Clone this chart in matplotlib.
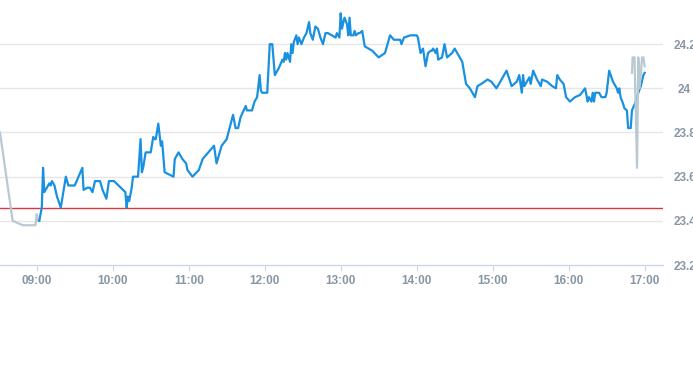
import matplotlib
matplotlib.use("Agg")
import matplotlib.pyplot as plt
import numpy as np

# minutes after 09:00 and price, regular session
minutes = [2, 4, 5, 6, 8, 9, 10, 11, 12, 14, 16, 19, 23, 25, 30, 36, 37, 40, 42, 44,
           46, 50, 52, 55, 57, 61, 70, 71, 72, 73, 75, 76, 80, 82, 83, 84, 86, 90, 92, 93,
           94, 96, 98, 99, 101, 108, 109, 112, 113, 115, 118, 119, 123, 128, 131, 140, 142, 146, 150, 155,
           157, 159, 161, 165, 166, 170, 172, 174, 176, 177, 178, 182, 184, 186, 188, 191, 194, 195, 196, 197,
           198, 200, 201, 202, 203, 205, 206, 207, 209, 211, 213, 215, 216, 218, 220, 222, 224, 226, 228, 230,
           233, 236, 237, 239, 240, 241, 243, 245, 246, 247, 248, 250, 251, 252, 254, 255, 257, 259, 265, 270,
           275, 279, 282, 287, 288, 290, 295, 300, 301, 303, 305, 307, 309, 311, 312, 313, 315, 316, 317, 320,
           322, 324, 328, 330, 333, 336, 339, 342, 346, 348, 351, 356, 359, 363, 366, 371, 375, 379, 381, 383,
           384, 385, 387, 389, 390, 392, 395, 398, 399, 403, 407, 410, 411, 413, 416, 418, 421, 425, 429, 433,
           435, 436, 438, 439, 440, 441, 444, 446, 449, 450, 452, 455, 458, 459, 460, 461, 463, 464, 466, 467,
           469, 470, 473, 475, 477, 479, 480]
prices = [23.40, 23.46, 23.64, 23.53, 23.55, 23.56, 23.57, 23.56, 23.58, 23.56, 23.51, 23.46, 23.60, 23.56, 23.56, 23.64, 23.54, 23.55, 23.55, 23.53,
          23.58, 23.58, 23.54, 23.50, 23.58, 23.58, 23.53, 23.46, 23.51, 23.49, 23.55, 23.60, 23.60, 23.77, 23.62, 23.64, 23.71, 23.71, 23.78, 23.77,
          23.77, 23.84, 23.74, 23.76, 23.62, 23.60, 23.68, 23.71, 23.70, 23.68, 23.66, 23.63, 23.60, 23.63, 23.68, 23.74, 23.66, 23.74, 23.77, 23.88,
          23.82, 23.82, 23.87, 23.92, 23.90, 23.90, 23.94, 23.96, 24.06, 23.99, 23.98, 23.98, 24.20, 24.20, 24.06, 24.09, 24.13, 24.12, 24.16, 24.13,
          24.16, 24.12, 24.20, 24.16, 24.21, 24.24, 24.20, 24.23, 24.20, 24.23, 24.25, 24.30, 24.25, 24.22, 24.28, 24.27, 24.23, 24.20, 24.25, 24.25,
          24.24, 24.23, 24.25, 24.23, 24.34, 24.27, 24.32, 24.29, 24.24, 24.32, 24.24, 24.24, 24.26, 24.24, 24.25, 24.25, 24.26, 24.19, 24.17, 24.14,
          24.16, 24.24, 24.22, 24.22, 24.20, 24.23, 24.24, 24.24, 24.23, 24.16, 24.18, 24.10, 24.16, 24.17, 24.17, 24.18, 24.16, 24.18, 24.13, 24.14,
          24.20, 24.14, 24.16, 24.18, 24.15, 24.12, 24.02, 24.00, 23.96, 24.01, 24.02, 24.04, 24.03, 24.00, 24.03, 24.08, 24.01, 24.03, 24.06, 23.98,
          24.06, 24.01, 24.03, 24.05, 24.02, 24.08, 24.04, 24.01, 24.04, 24.03, 24.01, 24.00, 24.06, 24.04, 24.02, 23.96, 23.94, 23.96, 23.97, 24.00,
          23.94, 23.96, 23.94, 23.98, 23.94, 23.98, 23.98, 23.96, 23.96, 23.98, 24.08, 24.03, 24.00, 23.98, 24.00, 23.96, 23.93, 23.91, 23.90, 23.82,
          23.82, 23.90, 23.94, 23.98, 24.01, 24.06, 24.07]

# extended hours (grey)
pre_minutes = [-29, -19, -15, -11, -1, 0, 1, 2]
pre_prices = [23.80, 23.40, 23.39, 23.38, 23.38, 23.43, 23.40, 23.40]
post_minutes = [470, 470.5, 471, 472, 474, 475, 476, 478, 479, 480]
post_prices = [24.07, 24.14, 24.14, 24.14, 23.64, 24.14, 24.00, 24.14, 24.14, 24.10]

prev_close = 23.46

xtick_min = [0, 60, 120, 180, 240, 300, 360, 420, 480]
xtick_labels = ["09:00", "10:00", "11:00", "12:00", "13:00", "14:00", "15:00", "16:00", "17:00"]
ytick_vals = [23.2, 23.4, 23.6, 23.8, 24.0, 24.2]
ytick_labels = ["23.2", "23.4", "23.6", "23.8", "24", "24.2"]

fig = plt.figure(figsize=(6.93, 3.65), dpi=100)
ax = fig.add_axes([0, 100 / 365, 663 / 693, 265 / 365])

for v in ytick_vals[1:]:
    ax.axhline(v, color="#e6e6e6", lw=1, zorder=1)
ax.axhline(prev_close, color="#d8393f", lw=1, zorder=2)

ax.plot(pre_minutes, pre_prices, color="#b9c9d3", lw=1.6, zorder=3)
ax.plot(minutes, prices, color="#1a90e0", lw=1.6, zorder=4, solid_joinstyle="round")
ax.plot(post_minutes, post_prices, color="#b9c9d3", lw=1.6, zorder=5)

ax.set_xlim(-29, 494.5)
ax.set_ylim(23.2, 24.4)

for s in ["top", "left", "right"]:
    ax.spines[s].set_visible(False)
ax.spines["bottom"].set_color("#ccd6eb")
ax.spines["bottom"].set_linewidth(1)

ax.set_xticks(xtick_min)
ax.set_xticklabels(xtick_labels, fontsize=8.5, fontweight="bold", color="#8896a4", family="Liberation Sans")
ax.tick_params(axis="x", length=4, color="#ccd6eb", pad=3)

ax.yaxis.tick_right()
ax.set_yticks(ytick_vals)
ax.set_yticklabels(ytick_labels, fontsize=8.5, fontweight="bold", color="#8896a4", family="Liberation Sans")
ax.tick_params(axis="y", length=0, pad=15.5)
for t in ax.get_yticklabels():
    t.set_horizontalalignment("center")

fig.savefig("out.png", dpi=100)
